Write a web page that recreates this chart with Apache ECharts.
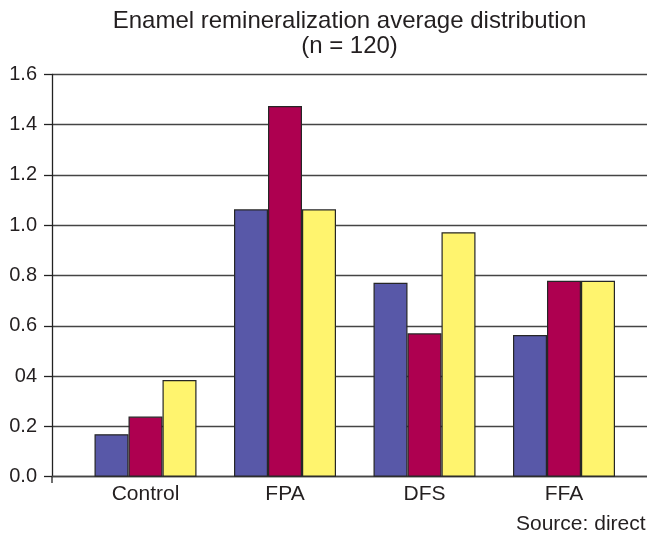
<!DOCTYPE html>
<html>
<head>
<meta charset="utf-8">
<script src="https://cdn.jsdelivr.net/npm/echarts@6/dist/echarts.min.js"></script>
<style>
html,body{margin:0;padding:0;background:#fff;}
#chart{width:647px;height:535px;}
</style>
</head>
<body>
<div id="chart"></div>
<script>
var categories = ['Control', 'FPA', 'DFS', 'FFA'];
var seriesBlue = [0.169, 1.063, 0.771, 0.563];
var seriesRed = [0.239, 1.474, 0.570, 0.779];
var seriesYellow = [0.384, 1.063, 0.972, 0.779];
var yTickLabels = ['0.0', '0.2', '04', '0.6', '0.8', '1.0', '1.2', '1.4', '1.6'];
var titleLines = ['Enamel remineralization average distribution', '(n = 120)'];
var sourceText = 'Source: direct';

var FONT = '"Liberation Sans", Arial, Helvetica, sans-serif';
var TXT = '#231f20';
var GRIDC = '#444444';
var TOP = 74.3, BOTTOM = 535 - 476.7;

var chart = echarts.init(document.getElementById('chart'), null, {renderer: 'canvas'});

function barSeries(name, data, color) {
  return {
    name: name, type: 'bar', xAxisIndex: 1, yAxisIndex: 1,
    data: data, barWidth: 34, barGap: '0%',
    itemStyle: {color: color, borderColor: '#262626', borderWidth: 1.2},
    emphasis: {disabled: true}, animation: false
  };
}

chart.setOption({
  animation: false,
  textStyle: {fontFamily: FONT},
  grid: [
    {left: 52, right: 0, top: TOP, bottom: BOTTOM, containLabel: false},
    {left: 75.75, width: 558, top: TOP, bottom: BOTTOM, containLabel: false}
  ],
  xAxis: [
    {gridIndex: 0, type: 'value', min: 0, max: 1, show: true,
     axisLine: {show: true, lineStyle: {color: GRIDC, width: 1.4}},
     axisTick: {show: false}, axisLabel: {show: false}, splitLine: {show: false}},
    {gridIndex: 1, type: 'category', data: categories,
     axisLine: {show: false}, axisTick: {show: false},
     axisLabel: {color: TXT, fontSize: 21, fontFamily: FONT, margin: 7},
     splitLine: {show: false}}
  ],
  yAxis: [
    {gridIndex: 0, type: 'value', min: 0, max: 1.6, interval: 0.2,
     axisLine: {show: true, lineStyle: {color: '#222', width: 1.3}},
     axisTick: {show: true, length: 8, lineStyle: {color: '#222', width: 1.3}},
     axisLabel: {color: TXT, fontSize: 20, fontFamily: FONT, margin: 15,
       formatter: function (v) { return yTickLabels[Math.round(v / 0.2)]; }},
     splitLine: {show: true, lineStyle: {color: GRIDC, width: 1.4}}},
    {gridIndex: 1, type: 'value', min: 0, max: 1.6, interval: 0.2, show: false,
     splitLine: {show: false}}
  ],
  series: [
    barSeries('A', seriesBlue, '#5858a8'),
    barSeries('B', seriesRed, '#ae0050'),
    barSeries('C', seriesYellow, '#fff46e')
  ],
  graphic: [
    {type: 'text', x: 349.5, y: 21, style: {text: titleLines[0], fill: TXT, font: '24px ' + FONT, textAlign: 'center', textVerticalAlign: 'middle'}},
    {type: 'text', x: 349.5, y: 46, style: {text: titleLines[1], fill: TXT, font: '24px ' + FONT, textAlign: 'center', textVerticalAlign: 'middle'}},
    {type: 'line', shape: {x1: 52, y1: 476, x2: 52, y2: 483}, style: {stroke: '#222', lineWidth: 1.3}},
    {type: 'text', x: 516, y: 524.5, style: {text: sourceText, fill: TXT, font: '21px ' + FONT, textAlign: 'left', textVerticalAlign: 'middle'}}
  ]
});
</script>
</body>
</html>
